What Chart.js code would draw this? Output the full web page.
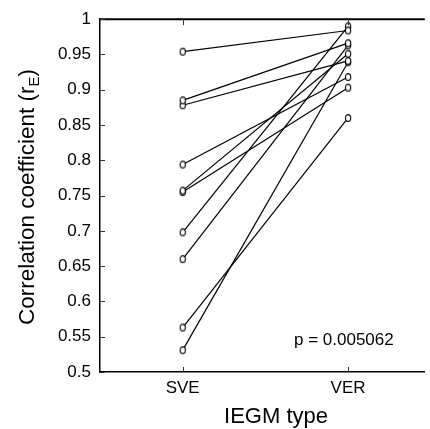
<!DOCTYPE html>
<html>
<head>
<meta charset="utf-8">
<script src="https://cdn.jsdelivr.net/npm/chart.js@4.4.1/dist/chart.umd.min.js"></script>
<style>
  html, body { margin: 0; padding: 0; background: #fff; }
  #wrap { width: 430px; height: 429px; position: relative; }
</style>
</head>
<body>
<div id="wrap"><canvas id="chart" width="430" height="429"></canvas></div>
<script>
  const categories = ['SVE', 'VER'];
  // one value per subject, paired by index
  const sveValues = [0.954, 0.885, 0.878, 0.794, 0.757, 0.755, 0.698, 0.660, 0.563, 0.531];
  const verValues = [0.984, 0.966, 0.941, 0.918, 0.951, 0.903, 0.990, 0.963, 0.860, 0.939];
  const yTicks = [0.5, 0.55, 0.6, 0.65, 0.7, 0.75, 0.8, 0.85, 0.9, 0.95, 1];
  const pText = 'p = 0.005062';

  const FONT = '"Liberation Sans", Arial, sans-serif';

  // open, slightly tall ellipse used as marker
  function makeMarker() {
    const c = document.createElement('canvas');
    c.width = 8;
    c.height = 10;
    const g = c.getContext('2d');
    g.fillStyle = '#fff';
    g.strokeStyle = '#000';
    g.lineWidth = 1.1;
    g.beginPath();
    g.ellipse(4, 5, 2.6, 3.4, 0, 0, Math.PI * 2);
    g.fill();
    g.stroke();
    return c;
  }
  const marker = makeMarker();

  const datasets = sveValues.map((v, i) => ({
    data: [{ x: 1, y: v }, { x: 2, y: verValues[i] }],
    showLine: true,
    borderColor: '#000',
    borderWidth: 1.2,
    pointStyle: marker,
    pointRadius: 4,
  }));

  // inward tick marks, top frame line, axis titles and p label
  const decorations = {
    id: 'decorations',
    afterDraw(chart) {
      const ctx = chart.ctx;
      const area = chart.chartArea;
      const xs = chart.scales.x;
      const ys = chart.scales.y;
      ctx.save();
      ctx.strokeStyle = '#000';
      ctx.lineWidth = 2;
      ctx.beginPath();
      ctx.moveTo(area.left - 1, area.top);
      ctx.lineTo(area.right, area.top);
      ctx.stroke();

      ctx.lineWidth = 1;
      ctx.strokeStyle = '#333';
      ctx.beginPath();
      yTicks.forEach((t) => {
        const y = Math.round(ys.getPixelForValue(t)) + 0.5;
        ctx.moveTo(area.left, y);
        ctx.lineTo(area.left + 5, y);
      });
      [1, 2].forEach((t) => {
        const x = Math.round(xs.getPixelForValue(t)) + 0.5;
        ctx.moveTo(x, area.bottom);
        ctx.lineTo(x, area.bottom - 5);
        ctx.moveTo(x, area.top);
        ctx.lineTo(x, area.top + 6);
      });
      ctx.stroke();

      ctx.fillStyle = '#000';
      ctx.font = '17px ' + FONT;
      ctx.textAlign = 'left';
      ctx.textBaseline = 'alphabetic';
      ctx.fillText(pText, 294, 345);

      ctx.font = '22px ' + FONT;
      ctx.textAlign = 'center';
      ctx.fillText('IEGM type', 276, 423);

      // rotated y title with subscript E
      const main = 'Correlation coefficient (r';
      ctx.font = '22.5px ' + FONT;
      const w1 = ctx.measureText(main).width;
      ctx.font = '15px ' + FONT;
      const w2 = ctx.measureText('E').width;
      ctx.font = '22.5px ' + FONT;
      const w3 = ctx.measureText(')').width;
      const total = w1 + w2 + w3;
      ctx.translate(34, 197);
      ctx.rotate(-Math.PI / 2);
      ctx.textAlign = 'left';
      const x0 = -total / 2;
      ctx.fillText(main, x0, 0);
      ctx.font = '15px ' + FONT;
      ctx.fillText('E', x0 + w1, 5);
      ctx.font = '22.5px ' + FONT;
      ctx.fillText(')', x0 + w1 + w2, 0);
      ctx.restore();
    },
  };

  new Chart(document.getElementById('chart'), {
    type: 'scatter',
    data: { datasets },
    options: {
      responsive: false,
      animation: false,
      events: [],
      layout: { padding: { left: 0, top: 17, right: 0, bottom: 0 } },
      plugins: {
        legend: { display: false },
        tooltip: { enabled: false },
      },
      scales: {
        x: {
          type: 'linear',
          min: 0.5,
          max: 2.464,
          afterBuildTicks: (s) => { s.ticks = [{ value: 1 }, { value: 2 }]; },
          afterFit: (s) => { s.height = 57; },
          ticks: {
            color: '#000',
            font: { size: 17, family: FONT },
            padding: 6,
            callback: (v) => categories[v - 1],
          },
          grid: { display: false, drawTicks: false },
          border: { display: true, color: '#000', width: 1.5 },
        },
        y: {
          type: 'linear',
          min: 0.5,
          max: 1,
          afterBuildTicks: (s) => { s.ticks = yTicks.map((v) => ({ value: v })); },
          afterFit: (s) => { s.width = 100; },
          ticks: {
            color: '#000',
            font: { size: 17, family: FONT },
            padding: 9,
            callback: (v) => String(Number(v.toFixed(2))),
          },
          grid: { display: false, drawTicks: false },
          border: { display: true, color: '#000', width: 1.5 },
        },
      },
    },
    plugins: [decorations],
  });
</script>
</body>
</html>
